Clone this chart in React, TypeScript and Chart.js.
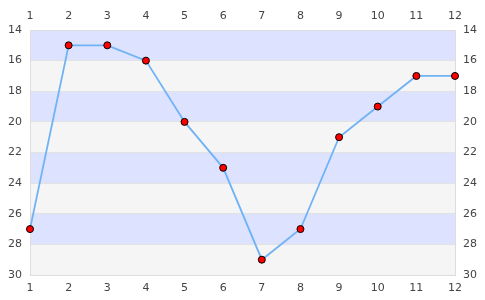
import React, { useEffect, useRef } from "react";
import { Chart, registerables } from "chart.js";

Chart.register(...registerables);

const xValues = [1, 2, 3, 4, 5, 6, 7, 8, 9, 10, 11, 12];
const yValues = [27, 15, 15, 16, 20, 23, 29, 27, 21, 19, 17, 17];
const bandStarts = [14, 16, 18, 20, 22, 24, 26, 28];
const bandColors = ["#dde3ff", "#f5f5f5"];

const bandsPlugin = {
  id: "bands",
  beforeDraw(chart: any) {
    const { ctx, chartArea, scales } = chart;
    const y = scales.y;
    ctx.save();
    bandStarts.forEach((s, i) => {
      const y1 = y.getPixelForValue(s);
      const y2 = y.getPixelForValue(s + 2);
      ctx.fillStyle = bandColors[i % 2];
      ctx.fillRect(chartArea.left, Math.min(y1, y2), chartArea.right - chartArea.left, Math.abs(y2 - y1));
    });
    ctx.restore();
  },
};

export default function App() {
  const ref = useRef<HTMLCanvasElement | null>(null);
  useEffect(() => {
    const tickFont = { family: "DejaVu Sans", size: 11 };
    const tickColor = "#444";
    const xScale = (pos: string, h: number) => ({
      type: "linear",
      position: pos,
      min: 1,
      max: 12,
      ticks: { stepSize: 1, font: tickFont, color: tickColor, padding: 7, maxRotation: 0 },
      grid: { display: false, drawTicks: false },
      border: { display: true, color: "#dddddd" },
      afterFit: (s: any) => {
        s.height = h;
      },
    });
    const yScale = (pos: string, grid: boolean, w: number) => ({
      type: "linear",
      position: pos,
      reverse: true,
      min: 14,
      max: 30,
      ticks: { stepSize: 2, font: tickFont, color: tickColor, padding: 8 },
      grid: { display: grid, color: "#e2e2e2", drawTicks: false },
      border: { display: true, color: "#dddddd" },
      afterFit: (s: any) => {
        s.width = w;
      },
    });
    const chart = new Chart(ref.current!, {
      type: "line",
      data: {
        datasets: [
          {
            data: xValues.map((x, i) => ({ x, y: yValues[i] })),
            borderColor: "#70b2f6",
            borderWidth: 1.8,
            pointBackgroundColor: "#ff0000",
            pointBorderColor: "#000000",
            pointBorderWidth: 1,
            pointRadius: 3.5,
            tension: 0,
            clip: false,
          } as any,
        ],
      },
      options: {
        animation: false,
        responsive: false,
        maintainAspectRatio: false,
        layout: { padding: 0 },
        plugins: { legend: { display: false }, tooltip: { enabled: false } },
        scales: {
          x: xScale("bottom", 25),
          x2: xScale("top", 30),
          y: yScale("left", true, 30),
          y2: yScale("right", false, 30),
        } as any,
      },
      plugins: [bandsPlugin],
    });
    return () => chart.destroy();
  }, []);
  return (
    <div style={{ position: "fixed", left: 0, top: 0, width: 485, height: 300 }}>
      <canvas ref={ref} width={485} height={300} style={{ width: 485, height: 300 }} />
    </div>
  );
}
